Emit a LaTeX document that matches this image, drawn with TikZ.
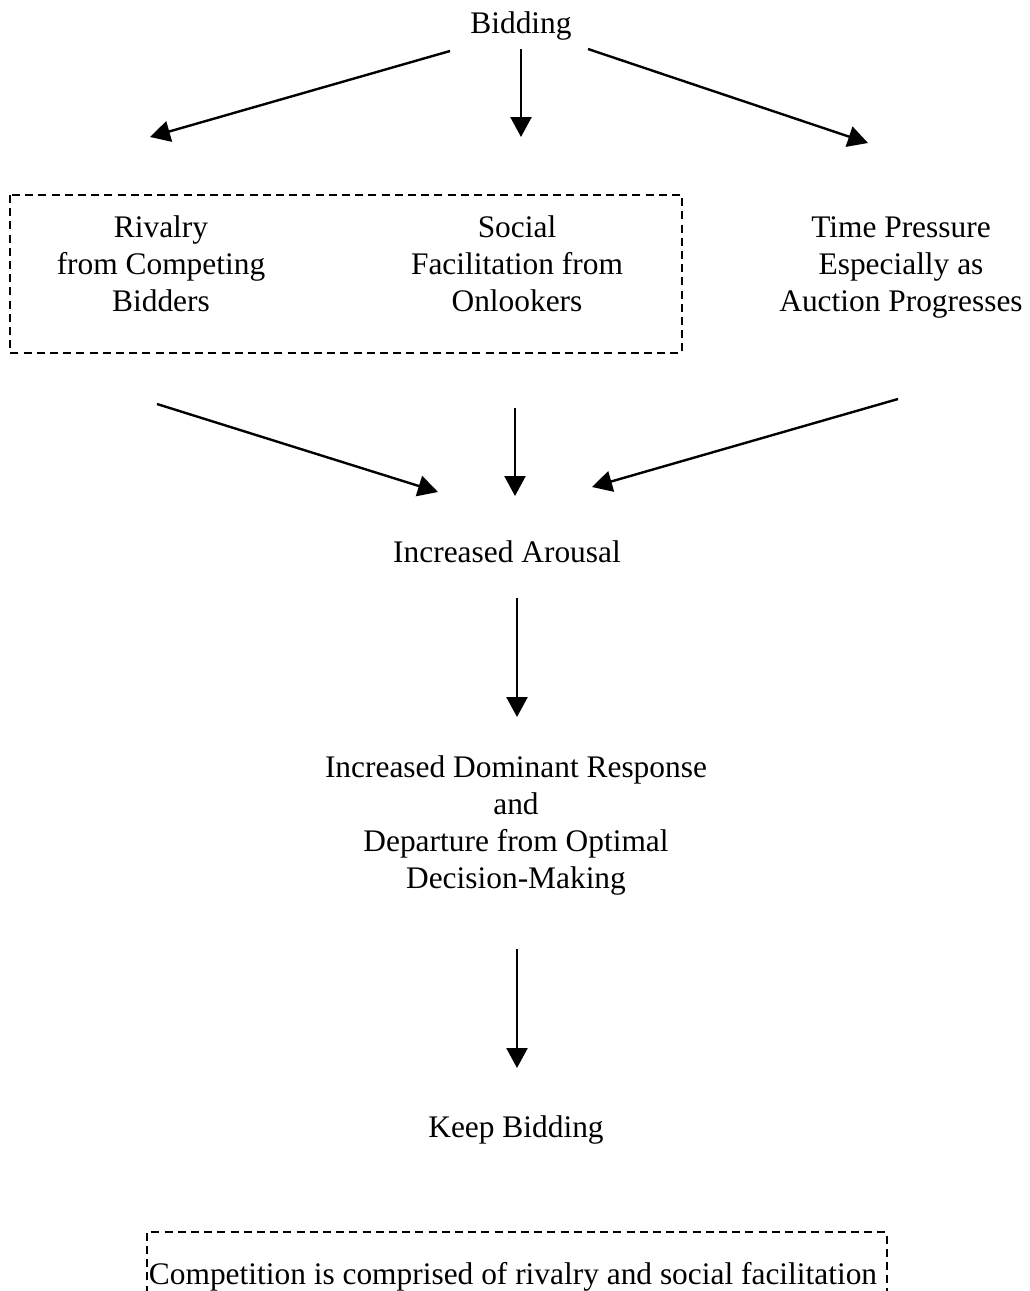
\documentclass[tikz,border=0pt]{standalone}
\usepackage{fontspec}
\setmainfont{Liberation Serif}
\usetikzlibrary{arrows.meta, positioning}
\tikzset{
>={Triangle[length=10pt,width=10.5pt]}, % solid triangle heads
flow/.style={->, line width=1.2pt}, % the plain arrows
dashbox/.style={dash pattern=on 4pt off 2.6pt, line width=1.2pt}, % dashed frames
every node/.style={font=\fontsize{15.7}{18.5}\selectfont, align=center, inner sep=0pt, anchor=base}, % base = last line
}
\begin{document}
\begin{tikzpicture}[x=0.5pt, y=-0.5pt]
            \clip (0,0) rectangle (1029,1291);
            \node (bid) at (521,33) {Bidding};
            \node (riv) at (161,311) {Rivalry\\from Competing\\Bidders};
            \node (soc) at (517,311) {Social\\Facilitation from\\Onlookers};
            \node (tim) at (901,311) {Time Pressure\\Especially as\\Auction Progresses};
            \node (aro) at (507,562) {Increased Arousal};
            \node (dom) at (516,888) {Increased Dominant Response\\and\\Departure from Optimal\\Decision-Making};
            \node (keep) at (516,1137) {Keep Bidding};
            \node (comp) at (513,1284) {Competition is comprised of rivalry and social facilitation};
            % free arrow ends
            \coordinate (b1) at (450,51);  \coordinate (r1) at (150,137);
            \coordinate (b2) at (521,49);  \coordinate (s1) at (521,137);
            \coordinate (b3) at (588,49);  \coordinate (t1) at (868,143);
            \coordinate (r2) at (157,404); \coordinate (a1) at (438,492);
            \coordinate (s2) at (515,408); \coordinate (a2) at (515,496);
            \coordinate (t2) at (898,399); \coordinate (a3) at (592,487);
            \coordinate (a4) at (517,598); \coordinate (d1) at (517,717);
            \coordinate (d2) at (517,949); \coordinate (k1) at (517,1068);
            \draw[flow] (b1) -- (r1);
            \draw[flow] (b2) -- (s1);
            \draw[flow] (b3) -- (t1);
            \draw[flow] (r2) -- (a1);
            \draw[flow] (s2) -- (a2);
            \draw[flow] (t2) -- (a3);
            \draw[flow] (a4) -- (d1);
            \draw[flow] (d2) -- (k1);
            % frames
            \draw[dashbox] (10,195) rectangle (682,353);
            \draw[dashbox] (147,1320) -- (147,1232) -- (887,1232) -- (887,1320);
        \end{tikzpicture}
\end{document}
